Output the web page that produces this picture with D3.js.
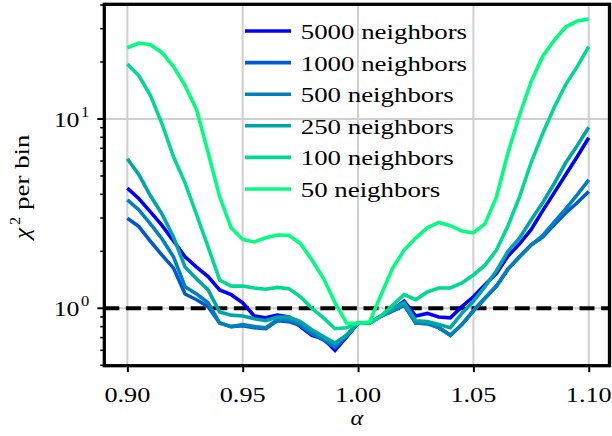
<!DOCTYPE html>
<html>
<head>
<meta charset="utf-8">
<script src="https://cdn.jsdelivr.net/npm/d3@7"></script>
</head>
<body style="margin:0; padding:0; background:#ffffff;">
<svg id="chart" width="612" height="436" style="display:block"></svg>
<script>
// Stretch parameter alpha sampled on the fit grid
const alpha = [0.900, 0.905, 0.910, 0.915, 0.920, 0.925, 0.930, 0.935, 0.940, 0.945,
               0.950, 0.955, 0.960, 0.965, 0.970, 0.975, 0.980, 0.985, 0.990, 0.995,
               1.000, 1.005, 1.010, 1.015, 1.020, 1.025, 1.030, 1.035, 1.040, 1.045,
               1.050, 1.055, 1.060, 1.065, 1.070, 1.075, 1.080, 1.085, 1.090, 1.095, 1.100];

// Reduced chi-square per bin for each neighbour count
const chi5000 = [4.31, 3.79, 3.23, 2.74, 2.27, 1.87, 1.65, 1.47, 1.25, 1.18,
                 1.07, 0.91, 0.89, 0.92, 0.90, 0.80, 0.72, 0.69, 0.60, 0.705,
                 0.836, 0.836, 0.91, 0.99, 1.09, 0.91, 0.94, 0.90, 0.89, 1.02,
                 1.15, 1.33, 1.53, 1.89, 2.19, 2.60, 3.27, 4.07, 5.07, 6.32, 7.96];
const chi1000 = [2.99, 2.70, 2.26, 1.91, 1.63, 1.19, 1.11, 1.02, 0.836, 0.80,
                 0.81, 0.79, 0.78, 0.86, 0.85, 0.81, 0.73, 0.68, 0.62, 0.71,
                 0.836, 0.836, 0.91, 0.97, 1.04, 0.836, 0.83, 0.79, 0.72, 0.82,
                 0.97, 1.13, 1.31, 1.61, 1.87, 2.16, 2.38, 2.76, 3.19, 3.61, 4.14];
const chi500  = [3.74, 3.31, 2.79, 2.33, 1.87, 1.30, 1.19, 1.07, 0.836, 0.80,
                 0.82, 0.80, 0.79, 0.87, 0.87, 0.82, 0.74, 0.69, 0.63, 0.72,
                 0.836, 0.836, 0.91, 0.97, 1.04, 0.836, 0.83, 0.79, 0.72, 0.82,
                 0.97, 1.13, 1.31, 1.61, 1.87, 2.16, 2.42, 2.85, 3.35, 3.97, 4.77];
const chi250  = [6.17, 5.08, 3.93, 3.15, 2.38, 1.65, 1.43, 1.25, 0.955, 0.92,
                 0.91, 0.88, 0.86, 0.90, 0.90, 0.85, 0.77, 0.71, 0.655, 0.72,
                 0.836, 0.836, 0.91, 0.99, 1.07, 0.86, 0.85, 0.82, 0.79, 0.94,
                 1.09, 1.30, 1.58, 2.00, 2.35, 2.93, 3.61, 4.55, 5.87, 7.22, 9.05];
const chi100  = [19.5, 16.9, 13.3, 9.44, 6.32, 4.60, 3.12, 2.11, 1.41, 1.31,
                 1.31, 1.28, 1.26, 1.29, 1.27, 1.15, 1.00, 0.89, 0.78, 0.79,
                 0.836, 0.836, 0.91, 1.04, 1.18, 1.11, 1.22, 1.28, 1.28, 1.36,
                 1.50, 1.69, 2.03, 2.73, 3.88, 5.87, 8.36, 11.5, 15.2, 18.9, 24.1];
const chi50   = [23.8, 25.2, 24.7, 22.4, 18.9, 15.0, 11.2, 6.66, 3.88, 2.66,
                 2.31, 2.24, 2.36, 2.44, 2.43, 2.20, 1.80, 1.44, 1.07, 0.836,
                 0.833, 0.847, 1.18, 1.63, 2.03, 2.35, 2.66, 2.84, 2.73, 2.56,
                 2.50, 2.79, 3.88, 6.63, 10.5, 15.7, 21.4, 26.0, 30.6, 32.9, 33.7];

const seriesLabels = ["5000 neighbors", "1000 neighbors", "500 neighbors",
                      "250 neighbors", "100 neighbors", "50 neighbors"];
const seriesValues = [chi5000, chi1000, chi500, chi250, chi100, chi50];
// winter colormap positions (log of neighbour count)
const seriesColors = ["#0000ff", "#0059d2", "#0080bf", "#00a6a6", "#00d993", "#00ff80"];

const xTicks = [0.90, 0.95, 1.00, 1.05, 1.10];
const yMajorTicks = [1, 10];
const yMinorTicks = [0.5, 0.6, 0.7, 0.8, 0.9, 2, 3, 4, 5, 6, 7, 8, 9, 20, 30, 40];
const referenceLevel = 1;

const svg = d3.select("#chart");
const box = { left: 104.3, right: 609.5, top: 4.3, bottom: 365.7 };

const x = d3.scaleLinear().domain([0.89, 1.109]).range([box.left, box.right]);
const y = d3.scaleLog().domain([0.4974, 40.36]).range([box.bottom, box.top]);

const FAMILY = '"Liberation Serif"';
const FONT = 22;       // rendered glyph size
const SUP = 15;
const EM = 21.1;       // em of the wide serif face the label widths follow
// advance widths (em): wide serif face (target) and the installed serif face
const WIDE = { "0": .636, "1": .636, "2": .636, "5": .636, "9": .636, ".": .318, " ": .318,
               n: .644, e: .592, i: .320, g: .640, h: .644, b: .640, o: .602, r: .478,
               s: .513, p: .640 };
const NARROW = { "0": .5, "1": .5, "2": .5, "5": .5, "9": .5, ".": .25, " ": .25,
                 n: .5, e: .444, i: .278, g: .5, h: .5, b: .5, o: .5, r: .333,
                 s: .389, p: .5 };
const widthOf = (tbl, s) => Array.from(s).reduce((w, c) => w + (tbl[c] || .5), 0);
// horizontal stretch so a label spans the same width as in the wide face
const stretch = s => (widthOf(WIDE, s) * EM - 1) / (widthOf(NARROW, s) * FONT);

function label(parent, str, px, py, opts = {}) {
  const size = opts.size || FONT;
  const sx = opts.sx || 1;
  return parent.append("text")
    .attr("transform", `translate(${px},${py}) scale(${sx},1)`)
    .attr("x", 0).attr("y", 0)
    .attr("text-anchor", opts.anchor || "start")
    .attr("font-size", size)
    .attr("font-style", opts.italic ? "italic" : "normal")
    .style("font-family", FAMILY)
    .style("fill", "#000")
    .text(str);
}

// grid
const grid = svg.append("g").attr("stroke", "#cfcfcf").attr("stroke-width", 2);
grid.selectAll("line.gx").data(xTicks).join("line")
  .attr("x1", d => x(d)).attr("x2", d => x(d))
  .attr("y1", box.top).attr("y2", box.bottom);
grid.selectAll("line.gy").data(yMajorTicks).join("line")
  .attr("x1", box.left).attr("x2", box.right)
  .attr("y1", d => y(d)).attr("y2", d => y(d));

// reference line at chi2 = 1
svg.append("line")
  .attr("x1", box.left).attr("x2", box.right)
  .attr("y1", y(referenceLevel)).attr("y2", y(referenceLevel))
  .attr("stroke", "#000").attr("stroke-width", 4)
  .attr("stroke-dasharray", "15,6.6");

// curves
const line = d3.line()
  .x((d, i) => x(alpha[i]))
  .y(d => y(d));

svg.append("g").selectAll("path").data(seriesValues).join("path")
  .attr("d", d => line(d))
  .attr("fill", "none")
  .attr("stroke", (d, i) => seriesColors[i])
  .attr("stroke-width", 3.6)
  .attr("stroke-linejoin", "miter")
  .attr("stroke-linecap", "butt");

// x axis: ticks from d3, labels set in the serif face
const fmt = d3.format(".2f");
const xAxis = d3.axisBottom(x).tickValues(xTicks).tickFormat(() => "").tickSize(6.5);
const gx = svg.append("g").attr("transform", `translate(0,${box.bottom})`).call(xAxis);
gx.select(".domain").remove();
gx.selectAll(".tick text").remove();
gx.selectAll(".tick line").attr("stroke", "#000").attr("stroke-width", 2);
const xLabels = svg.append("g");
xTicks.forEach(t => {
  const s = fmt(t);
  label(xLabels, s, x(t), box.bottom + 36, { anchor: "middle", sx: stretch(s) });
});

// y axis: major and minor ticks
const gy = svg.append("g");
gy.selectAll("line.maj").data(yMajorTicks).join("line")
  .attr("x1", box.left - 7).attr("x2", box.left)
  .attr("y1", d => y(d)).attr("y2", d => y(d))
  .attr("stroke", "#000").attr("stroke-width", 2);
gy.selectAll("line.min").data(yMinorTicks.filter(v => v >= y.domain()[0] && v <= y.domain()[1]))
  .join("line")
  .attr("x1", box.left - 4).attr("x2", box.left)
  .attr("y1", d => y(d)).attr("y2", d => y(d))
  .attr("stroke", "#000").attr("stroke-width", 1.6);
yMajorTicks.forEach(t => {
  label(gy, "10", 79.5, y(t) + 8, { anchor: "end", sx: stretch("10") });
  label(gy, String(Math.round(Math.log10(t))), 81, y(t) - 2, { size: SUP, sx: 1.1 });
});

// spines
svg.append("rect")
  .attr("x", box.left).attr("y", box.top)
  .attr("width", box.right - box.left).attr("height", box.bottom - box.top)
  .attr("fill", "none").attr("stroke", "#000").attr("stroke-width", 3.3);

// axis titles
label(svg, "α", (box.left + box.right) / 2, 425, { anchor: "middle", italic: true, size: 21, sx: 1.15 });

const yt = svg.append("g")
  .attr("transform", `translate(29,${(box.top + box.bottom) / 2}) rotate(-90)`);
label(yt, "χ", -54, 0, { italic: true, sx: 1.15 });
label(yt, "2", -40, -9, { size: SUP, sx: 1.1 });
label(yt, "per bin", -25, 0, { sx: stretch("per bin") });

// legend (no frame)
const legend = svg.append("g");
seriesLabels.forEach((name, i) => {
  const row = legend.append("g").attr("transform", `translate(0,${31 + i * 31.6})`);
  row.append("line")
    .attr("x1", 245).attr("x2", 291).attr("y1", 0).attr("y2", 0)
    .attr("stroke", seriesColors[i]).attr("stroke-width", 3.6);
  label(row, name, 300.7, 8, { sx: stretch(name) });
});
</script>
</body>
</html>
